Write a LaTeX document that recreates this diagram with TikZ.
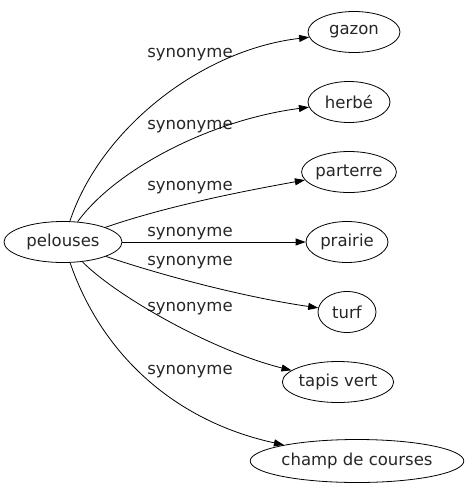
\documentclass[tikz,border=0pt]{standalone}
\usepackage{fontspec}
\setmainfont{DejaVu Sans}
\usetikzlibrary{shapes.geometric,arrows.meta}
\begin{document}
\begin{tikzpicture}[x=1pt,y=-1pt,
  every node/.style={font=\fontsize{16.5}{19}\selectfont, text=black!85},
  ell/.style={draw, ellipse, inner sep=0pt, line width=0.8pt, minimum height=41pt},
  lab/.style={inner sep=0pt},
  edge/.style={draw, line width=0.8pt, -{Triangle[length=10pt,width=7pt]}}]
\useasboundingbox (0,0) rectangle (466,491);
\node[ell, minimum width=118pt] (p) at (63,242) {pelouses};
\node[ell, minimum width=92pt] (g) at (354,32) {gazon};
\node[ell, minimum width=82pt] (h) at (349,102) {herbé};
\node[ell, minimum width=94pt] (pa) at (349,172) {parterre};
\node[ell, minimum width=82pt] (pr) at (347,242) {prairie};
\node[ell, minimum width=58pt] (t) at (347,312) {turf};
\node[ell, minimum width=98pt] (tv) at (338,382) {tapis vert};
\node[ell, minimum width=210pt, minimum height=43pt] (c) at (357,461) {champ de courses};
\node[lab] (l1) at (190,55) {synonyme};
\node[lab] (l2) at (190,127) {synonyme};
\node[lab] (l3) at (190,188) {synonyme};
\node[lab] (l4) at (190,234) {synonyme};
\node[lab] (l5) at (190,263) {synonyme};
\node[lab] (l6) at (190,309) {synonyme};
\node[lab] (l7) at (190,372) {synonyme};
\draw[edge] (p) .. controls (100,130) and (200,50) .. (g);
\draw[edge] (p) .. controls (115,170) and (210,120) .. (h);
\draw[edge] (p) .. controls (170,205) and (250,190) .. (pa);
\draw[edge] (p) -- (pr);
\draw[edge] (p) .. controls (170,278) and (250,298) .. (t);
\draw[edge] (p) .. controls (115,295) and (210,350) .. (tv);
\draw[edge] (p) .. controls (100,350) and (170,420) .. (c);
\end{tikzpicture}
\end{document}
